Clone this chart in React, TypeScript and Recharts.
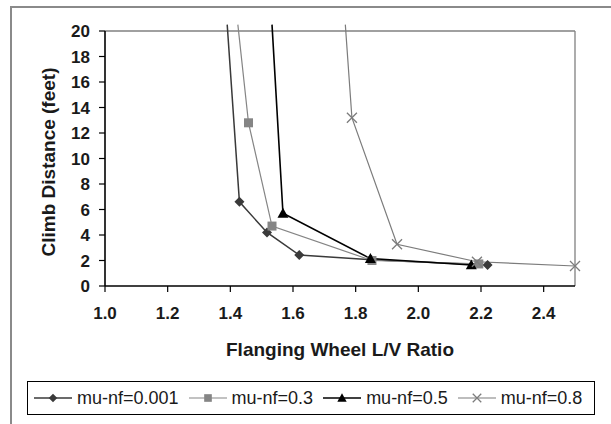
import React from "react";
import { LineChart, Line, XAxis, YAxis, ReferenceLine } from "recharts";

// L/V ratio (x) and climb distance in feet (y) per series
const lv001 = [1.39, 1.429, 1.517, 1.62, 1.85, 2.221];
const climb001 = [20.5, 6.6, 4.2, 2.43, 2.05, 1.65];
const lv03 = [1.424, 1.458, 1.533, 1.852, 2.193];
const climb03 = [20.5, 12.8, 4.7, 2.0, 1.73];
const lv05 = [1.533, 1.568, 1.847, 2.169];
const climb05 = [20.5, 5.7, 2.15, 1.65];
const lv08 = [1.767, 1.788, 1.932, 2.187, 2.5];
const climb08 = [20.5, 13.2, 3.27, 1.9, 1.57];

const seriesNames = ["mu-nf=0.001", "mu-nf=0.3", "mu-nf=0.5", "mu-nf=0.8"];
const xTicks = [1.0, 1.2, 1.4, 1.6, 1.8, 2.0, 2.2, 2.4];
const yTicks = [0, 2, 4, 6, 8, 10, 12, 14, 16, 18, 20];

const zip = (xs: number[], ys: number[]) => xs.map((x, i) => ({ x, y: ys[i] }));

type Shape = "diamond" | "square" | "triangle" | "cross";

const seriesList = [
  { name: seriesNames[0], data: zip(lv001, climb001), color: "#3a3a3a", width: 1.5, shape: "diamond" as Shape },
  { name: seriesNames[1], data: zip(lv03, climb03), color: "#858585", width: 1.2, shape: "square" as Shape },
  { name: seriesNames[2], data: zip(lv05, climb05), color: "#000000", width: 1.6, shape: "triangle" as Shape },
  { name: seriesNames[3], data: zip(lv08, climb08), color: "#7c7c7c", width: 1.2, shape: "cross" as Shape },
];

const FONT = '"Liberation Sans", Arial, sans-serif';

function Marker({ shape, cx, cy, color, s = 1 }: { shape: Shape; cx: number; cy: number; color: string; s?: number }) {
  if (shape === "diamond") {
    const r = 5 * s;
    return <path d={`M${cx},${cy - r}L${cx + r},${cy}L${cx},${cy + r}L${cx - r},${cy}Z`} fill={color} stroke="none" />;
  }
  if (shape === "square") {
    const r = 4.5 * s;
    return <rect x={cx - r} y={cy - r} width={2 * r} height={2 * r} fill={color} />;
  }
  if (shape === "triangle") {
    const r = 5.5 * s;
    return <path d={`M${cx},${cy - r}L${cx + r},${cy + r * 0.8}L${cx - r},${cy + r * 0.8}Z`} fill={color} />;
  }
  const r = 5 * s;
  return (
    <path d={`M${cx - r},${cy - r}L${cx + r},${cy + r}M${cx - r},${cy + r}L${cx + r},${cy - r}`} stroke={color} strokeWidth={1.3} fill="none" />
  );
}

const makeDot = (shape: Shape, color: string) => (props: any) => {
  const { cx, cy, index, payload } = props;
  if (payload && payload.y > 20) return <g key={`d-${index}`} />;
  return (
    <g key={`d-${index}`}>
      <Marker shape={shape} cx={cx} cy={cy} color={color} />
    </g>
  );
};

export default function App() {
  return (
    <div style={{ position: "absolute", left: 0, top: 0, width: 611, height: 424, overflow: "hidden", background: "#fff", fontFamily: FONT }}>
      <div
        style={{
          position: "absolute", left: 10, top: 6, width: 601, height: 418,
          borderTop: "2px solid #8a8a8a", borderLeft: "2px solid #8a8a8a", boxSizing: "border-box",
        }}
      />
      <div style={{ position: "absolute", left: 0, top: 0 }}>
        <LineChart width={611} height={424} margin={{ top: 24.625, right: 36, left: 45, bottom: 108 }}>
          <XAxis
            dataKey="x"
            type="number"
            domain={[1, 2.5]}
            ticks={xTicks}
            interval={0}
            tickFormatter={(v: number) => v.toFixed(1)}
            tick={{ fill: "#1a1a1a", fontSize: 17, fontWeight: 700, fontFamily: FONT }}
            tickSize={6}
            tickMargin={15}
            height={30}
            axisLine={{ stroke: "#000", strokeWidth: 1.5 }}
            tickLine={{ stroke: "#000", strokeWidth: 1.2 }}
            allowDuplicatedCategory={false}
          />
          <YAxis
            type="number"
            domain={[0, 20.5]}
            ticks={yTicks}
            interval={0}
            width={60}
            tick={{ fill: "#1a1a1a", fontSize: 17, fontWeight: 700, fontFamily: FONT }}
            tickSize={6}
            tickMargin={9}
            axisLine={false}
            tickLine={{ stroke: "#000", strokeWidth: 1.2 }}
          />
          <ReferenceLine segment={[{ x: 1, y: 20 }, { x: 2.5, y: 20 }]} stroke="#808080" strokeWidth={1.3} />
          <ReferenceLine segment={[{ x: 2.5, y: 0 }, { x: 2.5, y: 20 }]} stroke="#808080" strokeWidth={1.3} />
          <ReferenceLine segment={[{ x: 1, y: 0 }, { x: 1, y: 20 }]} stroke="#000" strokeWidth={1.6} />
          {seriesList.map((s) => (
            <Line
              key={s.name}
              name={s.name}
              data={s.data}
              dataKey="y"
              type="linear"
              stroke={s.color}
              strokeWidth={s.width}
              dot={makeDot(s.shape, s.color)}
              activeDot={false}
              isAnimationActive={false}
            />
          ))}
        </LineChart>
      </div>
      <div
        style={{
          position: "absolute", left: 48, top: 162, transform: "translate(-50%, -50%) rotate(-90deg)",
          whiteSpace: "nowrap", fontSize: 19, fontWeight: 700, lineHeight: 1, color: "#1a1a1a",
        }}
      >
        Climb Distance (feet)
      </div>
      <div
        style={{
          position: "absolute", left: 340, top: 349, transform: "translate(-50%, -50%)",
          whiteSpace: "nowrap", fontSize: 19, fontWeight: 700, lineHeight: 1, color: "#1a1a1a",
        }}
      >
        Flanging Wheel L/V Ratio
      </div>
      <div
        style={{
          position: "absolute", left: 27, top: 381, width: 568, height: 34, boxSizing: "border-box",
          border: "1px solid #000", display: "flex", alignItems: "center", paddingLeft: 6, whiteSpace: "nowrap",
        }}
      >
        {seriesList.map((s) => (
          <div key={s.name} style={{ display: "flex", alignItems: "center", marginRight: 10, flexShrink: 0 }}>
            <svg width={38} height={14} style={{ display: "block", flexShrink: 0 }}>
              <line x1={0} y1={7} x2={38} y2={7} stroke={s.color} strokeWidth={s.width} />
              <Marker shape={s.shape} cx={19} cy={7} color={s.color} s={0.85} />
            </svg>
            <span style={{ fontSize: 18, marginLeft: 5, color: "#1a1a1a", lineHeight: 1, whiteSpace: "nowrap" }}>{s.name}</span>
          </div>
        ))}
      </div>
    </div>
  );
}
